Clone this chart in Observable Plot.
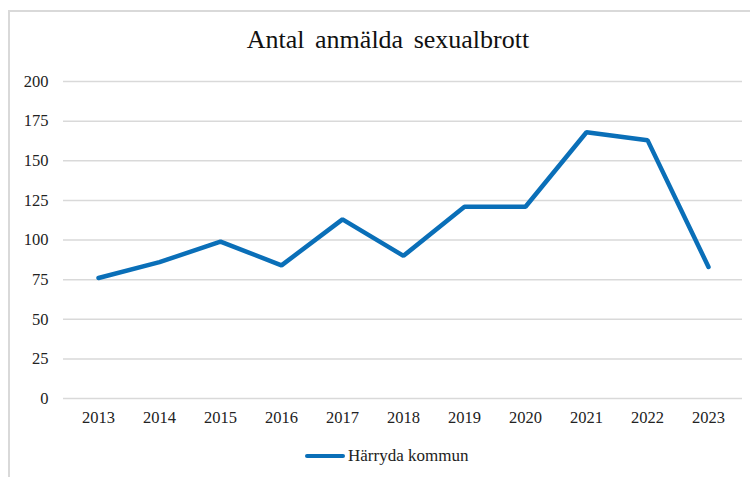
<!DOCTYPE html>
<html>
<head>
<meta charset="utf-8">
<script src="https://cdn.jsdelivr.net/npm/d3@7"></script>
<script src="https://cdn.jsdelivr.net/npm/@observablehq/plot@0.6"></script>
<style>
  html, body { margin: 0; padding: 0; background: #fff; }
  body { width: 750px; height: 477px; position: relative; overflow: hidden; font-family: "Liberation Serif", "Times New Roman", serif; }
  #frame { position: absolute; left: 8px; top: 10px; width: 760px; height: 480px; border-top: 2px solid #d9d9d9; border-left: 2px solid #d9d9d9; box-sizing: border-box; }
  #title { position: absolute; left: 0; width: 776px; top: 25px; text-align: center; font-size: 26px; word-spacing: 4px; color: #111; }
  #chart { position: absolute; left: 0; top: 65px; }
  #legend { position: absolute; top: 446px; left: 305px; display: flex; align-items: center; font-size: 17px; color: #222; }
  #legend .sw { width: 40px; height: 4px; background: #0a6fb8; border-radius: 2px; margin-right: 3px; }
</style>
</head>
<body>
<div id="frame"></div>
<div id="title">Antal anmälda sexualbrott</div>
<div id="chart"></div>
<div id="legend"><span class="sw"></span><span id="legendText"></span></div>
<script>
const years = ["2013","2014","2015","2016","2017","2018","2019","2020","2021","2022","2023"];
const values = [76, 86, 99, 84, 113, 90, 121, 121, 168, 163, 83];
const yTicks = [0, 25, 50, 75, 100, 125, 150, 175, 200];
const seriesName = "Härryda kommun";

const data = years.map((y, i) => ({year: y, value: values[i]}));

const plot = Plot.plot({
  width: 750,
  height: 368,
  marginTop: 16,
  marginBottom: 35,
  marginLeft: 63,
  marginRight: 8,
  style: {fontFamily: "'Liberation Serif', 'Times New Roman', serif", fontSize: "16.5px", color: "#222", background: "transparent"},
  x: {type: "point", domain: years, padding: 0.5, label: null},
  y: {domain: [0, 200], ticks: yTicks, label: null},
  marks: [
    Plot.ruleY(yTicks, {stroke: "#d9d9d9", strokeWidth: 1.5}),
    Plot.axisY({ticks: yTicks, tickSize: 0, tickPadding: 15, label: null}),
    Plot.axisX({tickSize: 0, tickPadding: 13, label: null}),
    Plot.line(data, {x: "year", y: "value", stroke: "#0a6fb8", strokeWidth: 4.5, strokeLinejoin: "miter", strokeLinecap: "round"})
  ]
});
document.getElementById("chart").appendChild(plot);
document.getElementById("legendText").textContent = seriesName;
</script>
</body>
</html>
